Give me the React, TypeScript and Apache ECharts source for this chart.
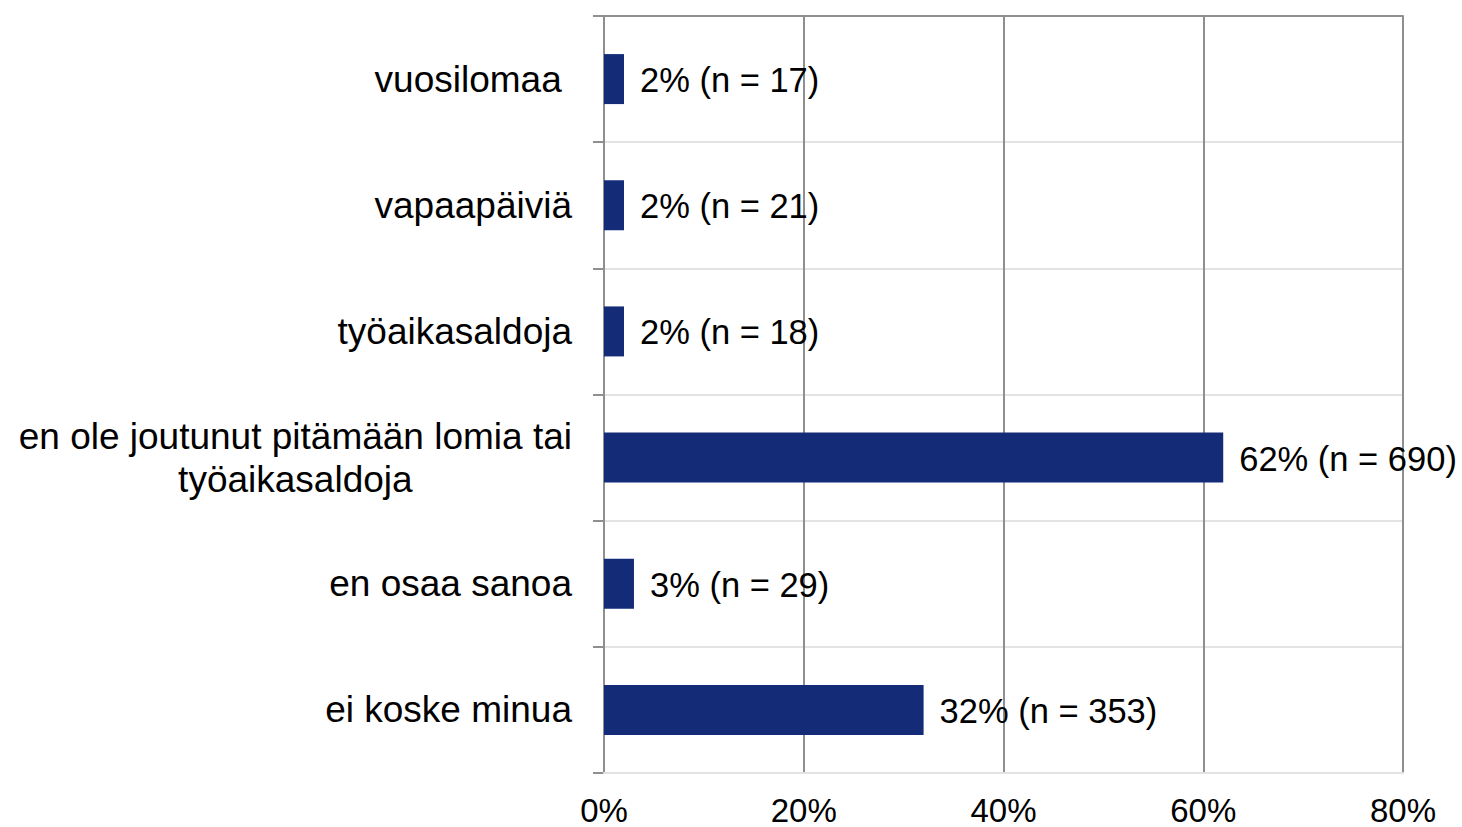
import React, { useEffect, useRef } from "react";
import * as echarts from "echarts";

const categories = [
  "vuosilomaa ",
  "vapaapäiviä",
  "työaikasaldoja",
  "en ole joutunut pitämään lomia tai\ntyöaikasaldoja",
  "en osaa sanoa",
  "ei koske minua",
];
const percentValues = [2, 2, 2, 62, 3, 32];
const counts = [17, 21, 18, 690, 29, 353];
const xTicks = [0, 20, 40, 60, 80];

const FONT = "'Liberation Sans', Arial, sans-serif";

export default function App() {
  const ref = useRef<HTMLDivElement>(null);
  useEffect(() => {
    if (!ref.current) return;
    const chart = echarts.init(ref.current, undefined, { renderer: "svg" });
    chart.setOption({
      animation: false,
      backgroundColor: "#ffffff",
      textStyle: { fontFamily: FONT },
      grid: { left: 604, right: 59, top: 16, bottom: 54, containLabel: false },
      xAxis: [
        {
          type: "value",
          min: xTicks[0],
          max: xTicks[xTicks.length - 1],
          interval: 20,
          axisLabel: {
            formatter: "{value}%",
            fontSize: 33,
            lineHeight: 32,
            color: "#000",
            fontFamily: FONT,
            margin: 21,
          },
          axisLine: { show: true, lineStyle: { color: "#e3e3e3", width: 2 } },
          axisTick: { show: false },
          splitLine: { show: true, lineStyle: { color: "#8f8f8f", width: 2 } },
          z: 3,
        },
        {
          type: "value",
          position: "top",
          min: xTicks[0],
          max: xTicks[xTicks.length - 1],
          interval: 20,
          axisLabel: { show: false },
          axisTick: { show: false },
          splitLine: { show: false },
          axisLine: { show: true, lineStyle: { color: "#8f8f8f", width: 2 } },
          z: 4,
        },
      ],
      yAxis: {
        type: "category",
        inverse: true,
        data: categories,
        axisLine: { show: true, lineStyle: { color: "#8f8f8f", width: 2 } },
        axisTick: { show: true, length: 11, lineStyle: { color: "#8f8f8f", width: 2 } },
        splitLine: { show: true, lineStyle: { color: "#e3e3e3", width: 2 } },
        axisLabel: {
          margin: 32,
          fontSize: 37,
          color: "#000",
          fontFamily: FONT,
          lineHeight: 43,
          formatter: (v: string) =>
            v
              .split("\n")
              .map((line) => `{c|${line}}`)
              .join("\n"),
          rich: {
            c: {
              align: "center",
              fontSize: 37,
              lineHeight: 43,
              color: "#000",
              fontFamily: FONT,
            },
          },
        },
        z: 2,
      },
      series: [
        {
          type: "bar",
          data: percentValues,
          barWidth: 50,
          itemStyle: { color: "#142c78" },
          z: 5,
          label: {
            show: true,
            position: "right",
            distance: 16,
            fontSize: 34.5,
            color: "#000",
            fontFamily: FONT,
            offset: [0, 1],
            formatter: (p: any) =>
              `${Math.round(percentValues[p.dataIndex])}% (n = ${counts[p.dataIndex]})`,
          },
        },
      ],
    });
    return () => chart.dispose();
  }, []);
  return (
    <div
      ref={ref}
      style={{ position: "absolute", left: 0, top: 0, width: 1462, height: 827 }}
    />
  );
}
